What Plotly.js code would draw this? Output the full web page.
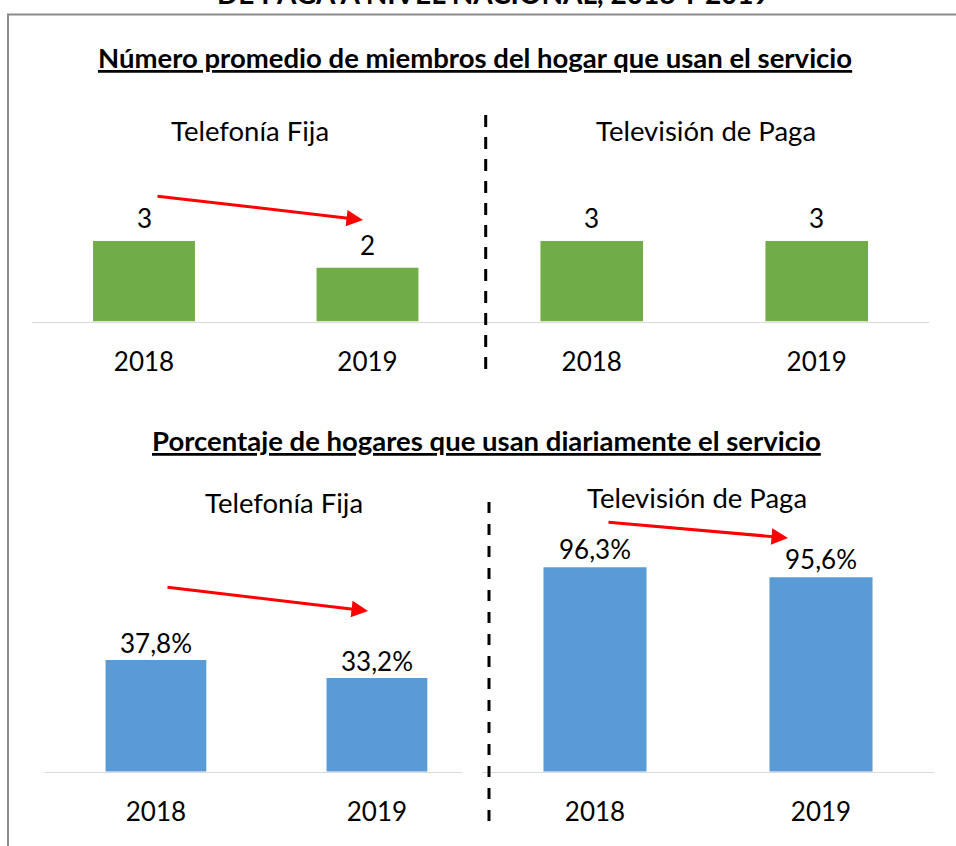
<!DOCTYPE html>
<html>
<head>
<meta charset="utf-8">
<script src="https://cdn.plot.ly/plotly-3.0.1.min.js"></script>
<style>html,body{margin:0;padding:0;background:#fff;}#chart{width:956px;height:846px;}</style>
</head>
<body>
<div id="chart"></div>
<script>
// ---- Data ----
const years = ['2018', '2019'];
const miembrosTelefonia = [3, 2];
const miembrosTelevision = [3, 3];
const pctTelefonia = [37.8, 33.2];
const pctTelevision = [96.3, 95.6];

const titleCut = 'DE PAGA A NIVEL NACIONAL, 2018 Y 2019';
const titleTop = 'Número promedio de miembros del hogar que usan el servicio';
const titleBottom = 'Porcentaje de hogares que usan diariamente el servicio';
const labelTel = 'Telefonía Fija';
const labelTv = 'Televisión de Paga';

// ---- Helpers ----
const W = 956, H = 846;
const px = x => x / W;
const py = y => 1 - y / H;
const FONT = 'Lato, "Noto Sans", sans-serif';
const GREEN = '#70AD47', BLUE = '#5B9BD5';
const fmtPct = v => v.toFixed(1).replace('.', ',') + '%';

function barTrace(vals, color, xa, ya) {
  return {
    type: 'bar', x: years, y: vals, xaxis: xa, yaxis: ya,
    width: 0.456, marker: {color: color, line: {width: 0}},
    hoverinfo: 'skip', showlegend: false
  };
}

const data = [
  barTrace(miembrosTelefonia, GREEN, 'x', 'y'),
  barTrace(miembrosTelevision, GREEN, 'x2', 'y2'),
  barTrace(pctTelefonia, BLUE, 'x3', 'y3'),
  barTrace(pctTelevision, BLUE, 'x4', 'y4')
];

function xax(d0, d1, anchor, range) {
  return {
    domain: [px(d0), px(d1)], anchor: anchor, type: 'category', range: range,
    showline: true, linecolor: '#d9d9d9', linewidth: 1.5, ticks: '',
    showgrid: false, zeroline: false, fixedrange: true,
    tickfont: {family: FONT, size: 26, color: '#000'}, ticklabelstandoff: 17
  };
}
function yax(t0, t1, range) {
  return {domain: [py(t0), py(t1)], range: range, visible: false, fixedrange: true};
}

const annotations = [];
function textAnn(text, x, y, size, opts) {
  annotations.push(Object.assign({
    xref: 'paper', yref: 'paper', x: px(x), y: py(y), text: text,
    showarrow: false, xanchor: 'center', yanchor: 'middle',
    font: {family: FONT, size: size, color: '#000'}
  }, opts || {}));
}
textAnn('<b>' + titleCut + '</b>', 493, 12, 28, {yanchor: 'bottom'});
textAnn('<b><u>' + titleTop + '</u></b>', 475, 58, 27.5);
textAnn('<b><u>' + titleBottom + '</u></b>', 486, 440, 27.5);
textAnn(labelTel, 250, 130, 27.5);
textAnn(labelTv, 706, 130, 27.5);
textAnn(labelTel, 284, 502, 27.5);
textAnn(labelTv, 697, 497, 27.5);

function valueAnns(vals, xa, ya, fmt, shift) {
  vals.forEach((v, i) => annotations.push({
    xref: xa, yref: ya, x: i, y: v, text: fmt(v), showarrow: false,
    xanchor: 'center', yanchor: 'middle', yshift: shift,
    font: {family: FONT, size: 26, color: '#000'}
  }));
}
valueAnns(miembrosTelefonia, 'x', 'y', v => String(v), 23);
valueAnns(miembrosTelevision, 'x2', 'y2', v => String(v), 23);
valueAnns(pctTelefonia, 'x3', 'y3', fmtPct, 17);
valueAnns(pctTelevision, 'x4', 'y4', fmtPct, 18);

function arrow(tx, ty, sx, sy) {
  annotations.push({
    xref: 'paper', yref: 'paper', x: px(tx), y: py(ty), axref: 'pixel', ayref: 'pixel',
    ax: sx - tx, ay: sy - ty, text: '', showarrow: true, arrowhead: 2, arrowsize: 1.1,
    arrowwidth: 3, arrowcolor: '#FF0000', standoff: 0, startstandoff: 0
  });
}
arrow(363, 220, 156, 196);
arrow(368, 611, 166, 587);
arrow(788, 538, 607, 522);

const shapes = [
  {type: 'line', xref: 'paper', yref: 'paper', x0: px(485.7), x1: px(485.7), y0: py(115), y1: py(375),
   line: {color: '#000', width: 3, dash: '12px,10px'}},
  {type: 'line', xref: 'paper', yref: 'paper', x0: px(489), x1: px(489), y0: py(502), y1: py(826),
   line: {color: '#000', width: 3, dash: '11px,11px'}},
  {type: 'path', xref: 'paper', yref: 'paper',
   path: 'M ' + px(8) + ',' + py(850) + ' L ' + px(8) + ',' + py(14.5) + ' L ' + px(960) + ',' + py(14.5),
   line: {color: '#8c8c8c', width: 2}}
];

const layout = {
  width: W, height: H, margin: {l: 0, r: 0, t: 0, b: 0},
  paper_bgcolor: '#fff', plot_bgcolor: 'rgba(0,0,0,0)',
  font: {family: FONT, color: '#000'},
  showlegend: false, bargap: 0.5,
  xaxis: xax(32.25, 479.25, 'y', [-0.5, 1.5]),
  yaxis: yax(321.5, 180, [0, 5.274]),
  xaxis2: xax(479.25, 929.25, 'y2', [-0.5, 1.5]),
  yaxis2: yax(321.5, 180, [0, 5.274]),
  xaxis3: xax(45, 462, 'y3', [-0.502, 1.385]),
  yaxis3: yax(771.5, 480, [9.3, 83.8]),
  xaxis4: xax(482, 934, 'y4', [-0.5, 1.5]),
  yaxis4: yax(771.5, 480, [82, 102.4]),
  annotations: annotations,
  shapes: shapes
};

Plotly.newPlot('chart', data, layout, {displayModeBar: false, staticPlot: true});
</script>
</body>
</html>
